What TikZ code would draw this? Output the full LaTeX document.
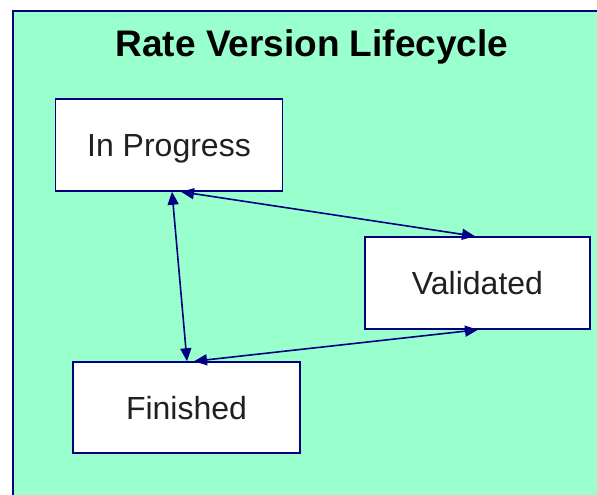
\documentclass[tikz,border=0pt]{standalone}
\usepackage{fontspec}
\setsansfont{Liberation Sans}
\usetikzlibrary{arrows.meta}

\begin{document}
\begin{tikzpicture}[
    x=1pt, y=-1pt,
    every node/.style={font=\sffamily},
    state/.style={
        rectangle,
        draw=navyblue,
        fill=white,
        line width=1.5pt,
        minimum width=227pt,
        minimum height=92pt,
        text height=23pt,
        text depth=0pt,
        align=center,
        text=textgray,
        font=\sffamily\fontsize{32}{36}\selectfont
    },
    link/.style={
        {Triangle[length=13pt,width=11pt]}-{Triangle[length=13pt,width=11pt]},
        draw=navyblue,
        line width=1.6pt
    }
]

\definecolor{navyblue}{RGB}{0, 0, 128}
\definecolor{mintgreen}{RGB}{153, 255, 204}
\definecolor{textgray}{RGB}{32, 32, 32}

\useasboundingbox (0, 0) rectangle (597, 495);
\fill[white] (0, 0) rectangle (597, 495);
\fill[mintgreen] (13, 11) rectangle (600, 500);
\draw[navyblue, line width=2pt] (13, 500) -- (13, 11) -- (600, 11);

\node[font=\sffamily\bfseries\fontsize{37}{40}\selectfont, anchor=base] (title) at (312, 57) {Rate Version Lifecycle};

\node[state] (inprogress) at (169,   145)   {In Progress};
\node[state, minimum width=225pt] (validated) at (477.5, 283) {Validated};
\node[state, minimum height=91pt] (finished) at (186.5, 407.5) {Finished};

\draw[link] ([xshift=3pt]inprogress.south) -- ([xshift=0.5pt]finished.north);
\draw[link] ([xshift=12pt]inprogress.south) -- ([xshift=-2.5pt]validated.north);
\draw[link] ([xshift=7.5pt]finished.north) -- ([xshift=0.5pt]validated.south);

\end{tikzpicture}
\end{document}
